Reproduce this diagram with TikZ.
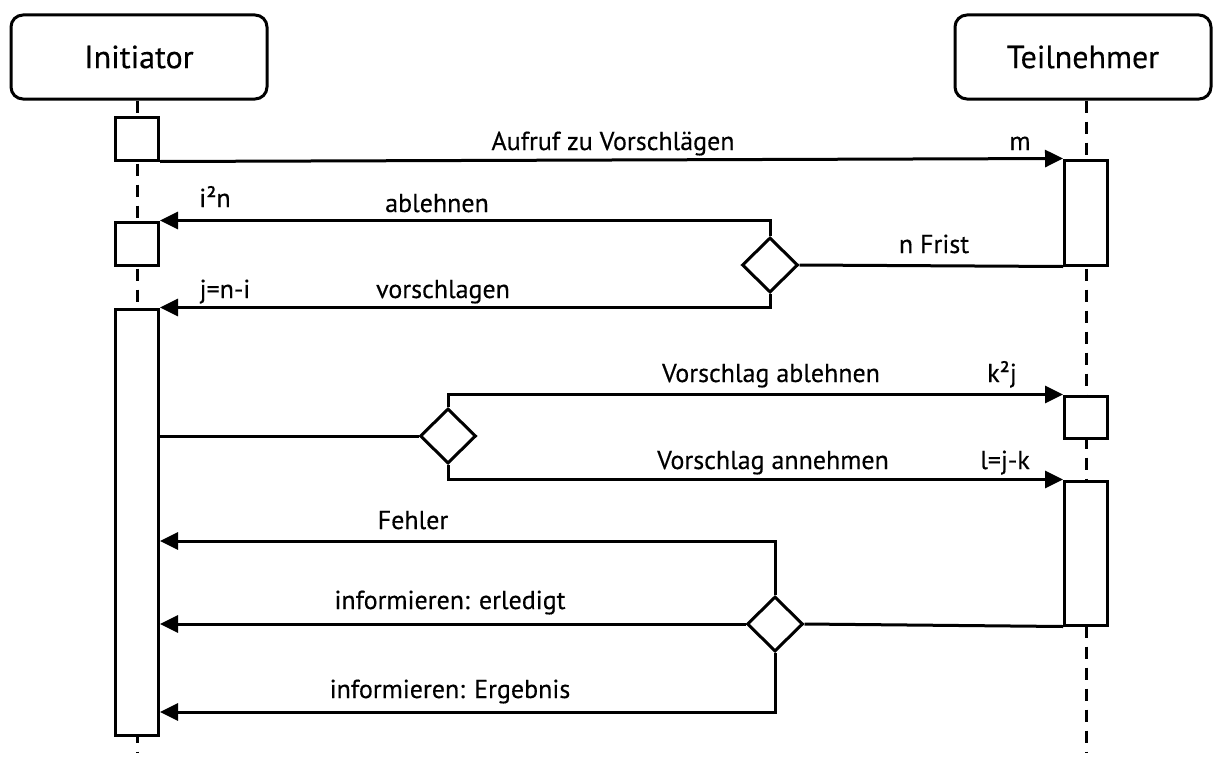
\documentclass[tikz,border=0pt]{standalone}
\usepackage{fontspec}
\setmainfont{PT Sans}[FakeBold=0.35]
\usetikzlibrary{arrows.meta,shapes.geometric}
\begin{document}
\begin{tikzpicture}[x=1pt,y=-1pt,line width=3pt,
  actor/.style={draw,rounded corners=12pt,minimum width=256pt,minimum height=84pt,
    inner sep=0pt,font=\fontsize{32}{38}\selectfont},
  act/.style={draw,fill=white,minimum width=43pt,inner sep=0pt},
  choice/.style={draw,fill=white,diamond,minimum width=56pt,minimum height=55pt,inner sep=0pt},
  msg/.style={-{Triangle[length=18pt,width=17pt]}},
  lbl/.style={font=\fontsize{26}{30}\selectfont,anchor=base,inner sep=0pt},
  life/.style={dash pattern=on 12pt off 9pt}]
\useasboundingbox (0,0) rectangle (1217,760);

% lifeline heads
\node[actor] (init) at (139,57) {Initiator};
\node[actor] (teil) at (1083,57) {Teilnehmer};

% lifelines
\coordinate (iend) at (137,752);
\coordinate (tend) at (1086,752);
\draw[life] (init.south -| iend) -- (iend);
\draw[life] (teil.south -| tend) -- (tend);

% activation bars
\node[act,minimum height=43pt]  (ib1) at (137,138.5) {};
\node[act,minimum height=105pt] (ta1) at (1086,212.5) {};
\node[act,minimum height=43pt]  (ib2) at (137,243.5) {};
\node[act,minimum height=426pt] (ia)  at (137,522) {};
\node[act,minimum height=42pt]  (tb)  at (1086,417) {};
\node[act,minimum height=144pt] (ta2) at (1086,553) {};

% decisions
\node[choice] (d1) at (770,265) {};
\node[choice] (d2) at (448,436) {};
\node[choice] (d3) at (775,624) {};

\coordinate (yf) at (0,541);
\coordinate (ye) at (0,712);

% messages
\draw[msg] (ib1.south east) -- (ta1.north west);
\draw (ta1.south west) -- (d1.east);
\draw[msg] (d1.north) |- (ib2.north east);
\draw[msg] (d1.south) |- (ia.north east);
\draw (ia.east |- d2.west) -- (d2.west);
\draw[msg] (d2.north) |- (tb.north west);
\draw[msg] (d2.south) |- (ta2.north west);
\draw (ta2.south west) -- (d3.east);
\draw[msg] (d3.north) |- (ia.east |- yf);
\draw[msg] (d3.west) -- (ia.east |- d3.west);
\draw[msg] (d3.south) |- (ia.east |- ye);

% message labels
\node[lbl] (l1) at (613,150) {Aufruf zu Vorschlägen};
\node[lbl] (l1b) at (1020,150) {m};
\node[lbl] (l2) at (437,212) {ablehnen};
\node[lbl] (l2b) at (215,207) {i²n};
\node[lbl] (l3) at (934,253) {n Frist};
\node[lbl] (l4) at (443,298) {vorschlagen};
\node[lbl] (l4b) at (225,298) {j=n-i};
\node[lbl] (l5) at (771,382) {Vorschlag ablehnen};
\node[lbl] (l5b) at (1002,382) {k²j};
\node[lbl] (l6) at (773,469) {Vorschlag annehmen};
\node[lbl] (l6b) at (1005,469) {l=j-k};
\node[lbl] (l7) at (413,529) {Fehler};
\node[lbl] (l8) at (450,609) {informieren: erledigt};
\node[lbl] (l9) at (450,698) {informieren: Ergebnis};
\end{tikzpicture}
\end{document}
